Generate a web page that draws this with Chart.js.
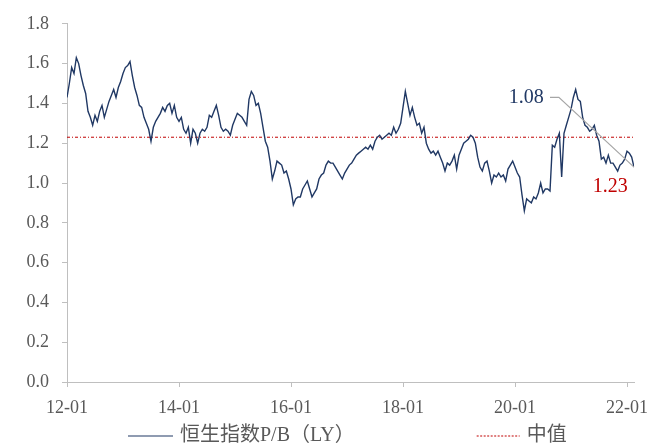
<!DOCTYPE html>
<html>
<head>
<meta charset="utf-8">
<script src="https://cdn.jsdelivr.net/npm/chart.js@4"></script>
<style>
  html, body { margin: 0; padding: 0; background: #fff; }
  #wrap { width: 660px; height: 446px; }
</style>
</head>
<body>
<div id="wrap"><canvas id="pbChart" width="660" height="446"></canvas></div>
<script>
// Hang Seng P/B (LY), half-month samples starting 2012-01
const pbValues = [
  1.43, 1.50, 1.58, 1.55, 1.63, 1.60, 1.54, 1.49, 1.45, 1.36, 1.33, 1.29,
  1.34, 1.31, 1.36, 1.39, 1.33, 1.37, 1.41, 1.44, 1.47, 1.43, 1.48, 1.51,
  1.55, 1.58, 1.59, 1.61, 1.54, 1.48, 1.44, 1.39, 1.38, 1.33, 1.30, 1.27,
  1.21, 1.28, 1.31, 1.33, 1.35, 1.38, 1.36, 1.39, 1.40, 1.35, 1.39, 1.33,
  1.31, 1.33, 1.27, 1.25, 1.28, 1.20, 1.27, 1.25, 1.20, 1.25, 1.27, 1.26,
  1.28, 1.34, 1.33, 1.36, 1.39, 1.34, 1.28, 1.26, 1.27, 1.26, 1.24, 1.29,
  1.32, 1.35, 1.34, 1.33, 1.31, 1.29, 1.42, 1.46, 1.44, 1.39, 1.40, 1.35,
  1.28, 1.21, 1.18, 1.11, 1.02, 1.06, 1.11, 1.10, 1.09, 1.05, 1.06, 1.02,
  0.97, 0.89, 0.92, 0.93, 0.93, 0.97, 0.99, 1.01, 0.97, 0.93, 0.95, 0.97,
  1.02, 1.04, 1.05, 1.09, 1.11, 1.10, 1.10, 1.08, 1.06, 1.04, 1.02, 1.05,
  1.07, 1.09, 1.10, 1.12, 1.14, 1.15, 1.16, 1.17, 1.18, 1.17, 1.19, 1.17,
  1.21, 1.23, 1.24, 1.22, 1.23, 1.24, 1.25, 1.24, 1.28, 1.25, 1.27, 1.30,
  1.38, 1.46, 1.40, 1.34, 1.38, 1.33, 1.29, 1.30, 1.25, 1.28, 1.20, 1.17,
  1.15, 1.16, 1.14, 1.16, 1.13, 1.10, 1.06, 1.10, 1.09, 1.11, 1.14, 1.07,
  1.14, 1.17, 1.20, 1.21, 1.22, 1.24, 1.23, 1.20, 1.13, 1.08, 1.06, 1.10,
  1.11, 1.06, 1.00, 1.04, 1.03, 1.05, 1.03, 1.04, 1.01, 1.07, 1.09, 1.11,
  1.08, 1.05, 1.03, 0.94, 0.86, 0.92, 0.91, 0.90, 0.93, 0.92, 0.95, 1.00,
  0.95, 0.97, 0.97, 0.96, 1.19, 1.18, 1.22, 1.25, 1.03, 1.25, 1.29, 1.33,
  1.37, 1.43, 1.47, 1.42, 1.41, 1.33, 1.29, 1.28, 1.26, 1.27, 1.29, 1.24,
  1.21, 1.12, 1.13, 1.10, 1.14, 1.10, 1.10, 1.08, 1.06, 1.09, 1.10, 1.12,
  1.16, 1.15, 1.13, 1.08
];
const medianValue = 1.23;
const tickLabels = ['12-01', '14-01', '16-01', '18-01', '20-01', '22-01'];
const seriesNames = ['恒生指数P/B（LY）', '中值'];

const STEP = 0.5;              // months between samples
const lastX = (pbValues.length - 1) * STEP;
const navy = '#203864';
const red = '#c00000';
const serif = "'Liberation Serif', 'Times New Roman', 'Noto Sans CJK SC', serif";

const pbPoints = pbValues.map((v, i) => ({ x: i * STEP, y: v }));
const medianPoints = [{ x: 0, y: medianValue }, { x: lastX, y: medianValue }];

// value callouts: latest value (with leader line) and the median
const callouts = {
  id: 'callouts',
  afterDatasetsDraw(chart) {
    const { ctx, scales: { x, y } } = chart;
    const last = pbValues[pbValues.length - 1];
    ctx.save();
    ctx.strokeStyle = '#a6a6a6';
    ctx.lineWidth = 1.2;
    ctx.beginPath();
    ctx.moveTo(x.getPixelForValue(103.5), y.getPixelForValue(1.43));
    ctx.lineTo(x.getPixelForValue(105.4), y.getPixelForValue(1.43));
    ctx.lineTo(x.getPixelForValue(lastX), y.getPixelForValue(last));
    ctx.stroke();

    ctx.font = '20px ' + serif;
    ctx.textAlign = 'center';
    ctx.textBaseline = 'middle';
    ctx.fillStyle = navy;
    ctx.fillText(last.toFixed(2), x.getPixelForValue(98.4), y.getPixelForValue(1.43));
    ctx.fillStyle = red;
    ctx.fillText(medianValue.toFixed(2), x.getPixelForValue(116.4), y.getPixelForValue(0.98));
    ctx.restore();
  }
};

// legend under the axis labels
const bottomLegend = {
  id: 'bottomLegend',
  afterDraw(chart) {
    const { ctx, chartArea } = chart;
    const ds = chart.data.datasets;
    const sampleW = [45, 43];
    const gap = 122;
    const yPos = 436;
    ctx.save();
    ctx.font = '20px ' + serif;
    let xPos = chartArea.left + 61;
    ds.forEach((d, i) => {
      ctx.strokeStyle = d.borderColor;
      ctx.lineWidth = 1.2;
      ctx.setLineDash(i === 1 ? [2, 1.5] : []);
      ctx.beginPath();
      ctx.moveTo(xPos, yPos);
      ctx.lineTo(xPos + sampleW[i], yPos);
      ctx.stroke();
      ctx.setLineDash([]);
      ctx.fillStyle = '#595959';
      ctx.textBaseline = 'middle';
      ctx.textAlign = 'left';
      const tx = xPos + sampleW[i] + 7;
      ctx.fillText(d.label, tx, yPos);
      xPos = tx + ctx.measureText(d.label).width + gap;
    });
    ctx.restore();
  }
};

new Chart(document.getElementById('pbChart'), {
  type: 'line',
  data: {
    datasets: [{
      label: seriesNames[0],
      data: pbPoints,
      borderColor: navy,
      borderWidth: 1.4,
      pointRadius: 0,
      tension: 0
    }, {
      label: seriesNames[1],
      data: medianPoints,
      borderColor: red,
      borderWidth: 1,
      borderDash: [3, 2, 1, 2],
      pointRadius: 0
    }]
  },
  options: {
    responsive: false,
    animation: false,
    layout: { padding: { top: 20, right: 26, left: 0, bottom: 0 } },
    plugins: {
      legend: { display: false },
      tooltip: { enabled: false }
    },
    scales: {
      x: {
        type: 'linear',
        min: 0,
        max: lastX,
        afterBuildTicks: scale => {
          scale.ticks = tickLabels.map((_, i) => ({ value: i * 24 }));
        },
        afterFit: scale => { scale.height = 64; },
        ticks: {
          callback: (v) => tickLabels[Math.round(v / 24)],
          color: '#595959',
          font: { family: serif, size: 18 },
          padding: 10,
          maxRotation: 0
        },
        grid: { drawOnChartArea: false, tickLength: 5, color: '#bfbfbf' },
        border: { color: '#bfbfbf' }
      },
      y: {
        min: 0,
        max: 1.8,
        afterFit: scale => { scale.width = 67; },
        ticks: {
          stepSize: 0.2,
          callback: v => v.toFixed(1),
          color: '#595959',
          font: { family: serif, size: 18 },
          padding: 13
        },
        grid: { drawOnChartArea: false, tickLength: 5, color: '#bfbfbf' },
        border: { color: '#bfbfbf' }
      }
    }
  },
  plugins: [callouts, bottomLegend]
});
</script>
</body>
</html>
